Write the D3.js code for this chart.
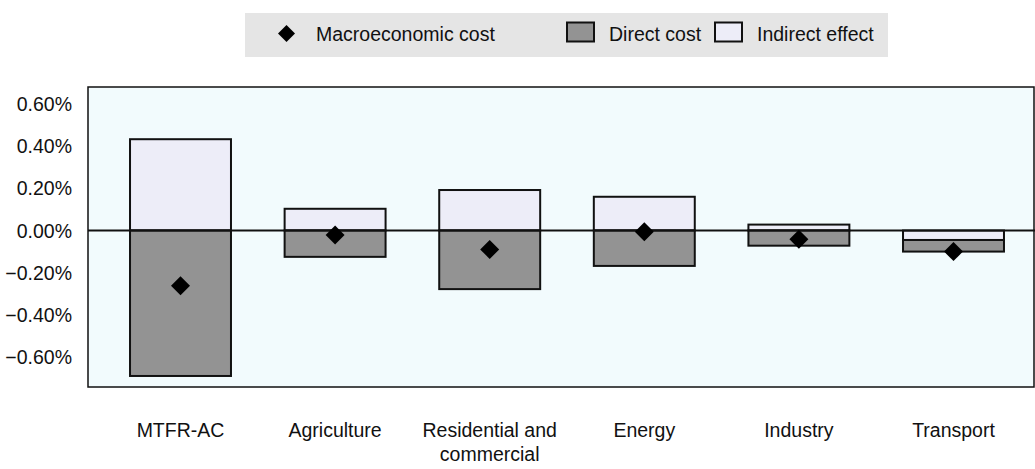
<!DOCTYPE html>
<html lang="en">
<head>
  <meta charset="UTF-8">
  <title>Macroeconomic cost by sector</title>
  <script src="https://d3js.org/d3.v7.min.js"></script>
  <style>
    body { margin: 0; background: #fff; font-family: "Liberation Sans", Arial, sans-serif; }
    text { fill: #111; }
  </style>
</head>
<body>
  <svg id="chart" width="1035" height="469"></svg>
  <script>
    // values in percent
    const categories = ["MTFR-AC", "Agriculture", "Residential and\ncommercial", "Energy", "Industry", "Transport"];
    const directCost = [-0.69, -0.125, -0.278, -0.168, -0.072, -0.055];
    const indirectEffect = [0.433, 0.103, 0.192, 0.160, 0.028, -0.045];
    const macroCost = [-0.262, -0.021, -0.090, -0.006, -0.042, -0.100];
    const yTicks = [-0.6, -0.4, -0.2, 0, 0.2, 0.4, 0.6];

    const svg = d3.select("#chart");
    const plot = { left: 88, right: 1034, top: 87, bottom: 387 };

    const x = d3.scaleBand().domain(categories).range([103.2, 1030.8]).paddingInner(0.347).paddingOuter(0.1735);
    const y = d3.scaleLinear().domain([-0.6, 0.6]).range([357, 104]);

    // plot background
    svg.append("rect")
      .attr("x", plot.left).attr("y", plot.top)
      .attr("width", plot.right - plot.left).attr("height", plot.bottom - plot.top)
      .attr("fill", "#f2fbfd").attr("stroke", "#111").attr("stroke-width", 1.5);

    // y axis labels
    svg.append("g").selectAll("text").data(yTicks).join("text")
      .attr("x", 72).attr("y", d => y(d)).attr("dy", "0.36em")
      .attr("text-anchor", "end").style("font-size", "19.5px")
      .text(d => d3.format(".2f")(d) + "%");

    // stacked bars
    const rows = categories.map((c, i) => ({ cat: c, indirect: indirectEffect[i], direct: directCost[i] }));
    const stack = d3.stack().keys(["indirect", "direct"]).offset(d3.stackOffsetDiverging);
    const fills = { indirect: "#ededf8", direct: "#939393" };

    svg.append("g").selectAll("g").data(stack(rows)).join("g")
      .attr("fill", s => fills[s.key])
      .selectAll("rect").data(s => s).join("rect")
      .attr("x", d => x(d.data.cat))
      .attr("width", x.bandwidth())
      .attr("y", d => y(Math.max(d[0], d[1])))
      .attr("height", d => Math.abs(y(d[0]) - y(d[1])))
      .attr("stroke", "#111").attr("stroke-width", 2);

    // zero line
    svg.append("line")
      .attr("x1", plot.left).attr("x2", plot.right + 1)
      .attr("y1", y(0)).attr("y2", y(0))
      .attr("stroke", "#111").attr("stroke-width", 2);

    // macroeconomic cost markers
    const diamond = d3.symbol(d3.symbolSquare, 180);
    svg.append("g").selectAll("path").data(macroCost).join("path")
      .attr("d", diamond)
      .attr("transform", (d, i) => `translate(${x(categories[i]) + x.bandwidth() / 2},${y(d)}) rotate(45)`)
      .attr("fill", "#000");

    // category labels
    svg.append("g").selectAll("text").data(categories).join("text")
      .attr("x", d => x(d) + x.bandwidth() / 2)
      .attr("y", 437)
      .attr("text-anchor", "middle").style("font-size", "19.5px")
      .each(function (d) {
        d3.select(this).selectAll("tspan").data(d.split("\n")).join("tspan")
          .attr("x", x(d) + x.bandwidth() / 2)
          .attr("dy", (l, j) => j === 0 ? 0 : "1.25em")
          .text(l => l);
      });

    // legend
    const legend = svg.append("g");
    legend.append("rect").attr("x", 245).attr("y", 13).attr("width", 643).attr("height", 44).attr("fill", "#e5e5e5");
    legend.append("path").attr("d", d3.symbol(d3.symbolSquare, 144))
      .attr("transform", "translate(286.5,33.5) rotate(45)").attr("fill", "#000");
    legend.append("text").attr("x", 316).attr("y", 41).style("font-size", "19.5px").text("Macroeconomic cost");
    legend.append("rect").attr("x", 567).attr("y", 22.5).attr("width", 27).attr("height", 19)
      .attr("fill", fills.direct).attr("stroke", "#111").attr("stroke-width", 2);
    legend.append("text").attr("x", 609).attr("y", 41).style("font-size", "19.5px").text("Direct cost");
    legend.append("rect").attr("x", 715).attr("y", 22.5).attr("width", 27).attr("height", 19)
      .attr("fill", fills.indirect).attr("stroke", "#111").attr("stroke-width", 2);
    legend.append("text").attr("x", 757).attr("y", 41).style("font-size", "19.5px").text("Indirect effect");
  </script>
</body>
</html>
